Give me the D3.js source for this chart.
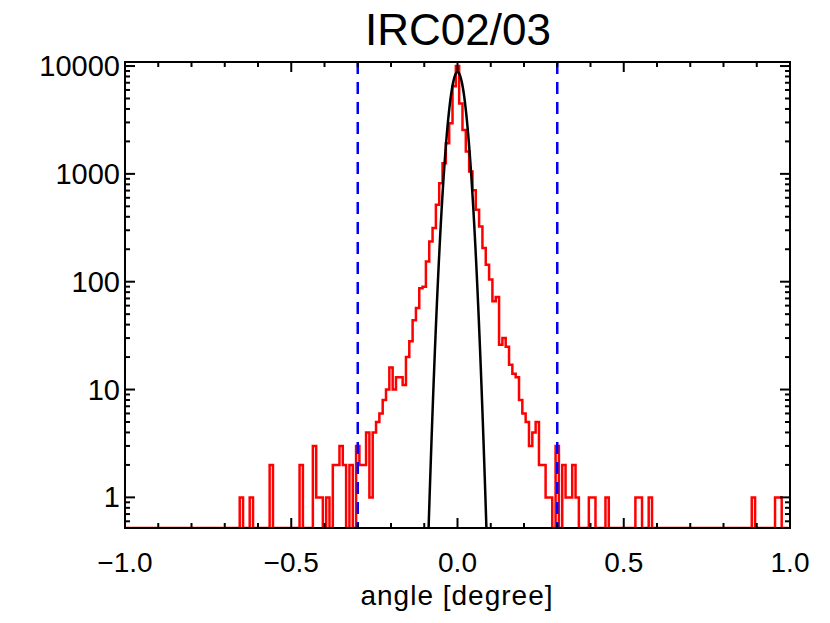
<!DOCTYPE html>
<html><head><meta charset="utf-8">
<script src="https://cdn.jsdelivr.net/npm/d3@7"></script>
<style>body{margin:0;background:#fff}text{font-family:"Liberation Sans",Arial,sans-serif}</style>
</head><body><svg id="c" width="830" height="623"></svg>
<script>
// histogram bin centres (step 0.01) with non-zero counts; all other bins are 0
const binCenters = [-0.65,-0.62,-0.56,-0.47,-0.43,-0.42,-0.41,-0.39,-0.37,-0.36,-0.35,-0.34,-0.32,-0.30,-0.29,-0.28,-0.27,-0.26,-0.25,-0.24,-0.23,-0.22,-0.21,-0.20,-0.19,-0.18,-0.17,-0.16,-0.15,-0.14,-0.13,-0.12,-0.11,-0.10,-0.09,-0.08,-0.07,-0.06,-0.05,-0.04,-0.03,-0.02,-0.01,0.00,0.01,0.02,0.03,0.04,0.05,0.06,0.07,0.08,0.09,0.10,0.11,0.12,0.13,0.14,0.15,0.16,0.17,0.18,0.19,0.20,0.21,0.22,0.23,0.24,0.25,0.26,0.27,0.28,0.30,0.32,0.33,0.34,0.35,0.36,0.40,0.41,0.45,0.54,0.55,0.58,0.89,0.96,0.97];
const binCounts  = [1,1,2,2,3,1,1,1,2,2,3,2,2,3,2,2,4,1,4,5,6,8,10,16,10,13,13,11,20,28,44,57,87,90,154,236,314,516,820,1255,1920,2950,6500,10000,4500,2550,1610,1050,705,465,325,205,144,105,66,72,26,30,25,17,14,13,8,6,5,3,4,5,2,2,1,1,3,2,1,1,2,1,1,1,1,1,1,1,1,1,1];
const fitPeak = 8800, fitSigma = 0.0197; // gaussian fit (black)
const cutLines = [-0.3, 0.3];
const xTicks = [-1,-0.5,0,0.5,1];
const yTicks = [1,10,100,1000,10000];

const svg = d3.select("#c");
const L=125,R=790,T=62,B=528;
const x = d3.scaleLinear().domain([-1,1]).range([L,R]);
const y = d3.scaleLog().domain([0.52,10900]).range([B,T]);
const ymin = 0.52;
const g = svg.append("g");
svg.append("defs").append("clipPath").attr("id","cp").append("rect").attr("x",L).attr("y",T).attr("width",R-L).attr("height",B-T);

const counts = new Map(binCenters.map((c,i)=>[Math.round(c*100),binCounts[i]]));
const pts=[];
for(let k=-100;k<100;k++){
  const v = counts.get(k)||0;
  pts.push([k/100-0.005, Math.max(v,ymin)]);
}
pts.push([0.995, ymin]);
g.append("path").attr("clip-path","url(#cp)")
 .attr("d", d3.line().x(d=>x(d[0])).y(d=>y(d[1])).curve(d3.curveStepAfter)(pts))
 .attr("fill","none").attr("stroke","#f00").attr("stroke-width",2.5);

const gx = d3.range(-0.1,0.1001,0.002);
g.append("path").attr("clip-path","url(#cp)")
 .attr("d", d3.line().x(d=>x(d)).y(d=>y(Math.max(fitPeak*Math.exp(-d*d/(2*fitSigma*fitSigma)),0.3)))(gx))
 .attr("fill","none").attr("stroke","#000").attr("stroke-width",2.5);

cutLines.forEach(c=>g.append("line").attr("x1",x(c)).attr("x2",x(c)).attr("y1",T).attr("y2",B)
 .attr("stroke","#00f").attr("stroke-width",2.5).attr("stroke-dasharray","12,8"));

g.append("rect").attr("x",L).attr("y",T).attr("width",R-L).attr("height",B-T).attr("fill","none").attr("stroke","#000").attr("stroke-width",2);

const xMinor = d3.range(-10,11).map(i=>i/10);
xMinor.forEach(v=>{
  const major = Math.abs(v*2-Math.round(v*2))<1e-9;
  const len = major?10:5;
  g.append("line").attr("x1",x(v)).attr("x2",x(v)).attr("y1",B).attr("y2",B-len).attr("stroke","#000").attr("stroke-width",2);
  g.append("line").attr("x1",x(v)).attr("x2",x(v)).attr("y1",T).attr("y2",T+len).attr("stroke","#000").attr("stroke-width",2);
});
xTicks.forEach(v=>g.append("text").attr("x",x(v)).attr("y",572).attr("text-anchor","middle").attr("font-size",28)
 .text(d3.format(".1f")(v).replace("-","\u2013")));
const yMinor=[];
[1,10,100,1000].forEach(d=>{for(let m=1;m<10;m++)yMinor.push(d*m);});
yMinor.push(10000);
yMinor.concat([0.6,0.7,0.8,0.9]).filter(v=>v>=ymin&&v<=10900).forEach(v=>{
  const major = yTicks.includes(v);
  const len = major?10:5;
  g.append("line").attr("x1",L).attr("x2",L+len).attr("y1",y(v)).attr("y2",y(v)).attr("stroke","#000").attr("stroke-width",2);
  g.append("line").attr("x1",R).attr("x2",R-len).attr("y1",y(v)).attr("y2",y(v)).attr("stroke","#000").attr("stroke-width",2);
});
yTicks.forEach(v=>g.append("text").attr("x",L-5).attr("y",y(v)+10).attr("text-anchor","end").attr("font-size",29).text(v));

svg.append("text").attr("x",458).attr("y",45).attr("text-anchor","middle").attr("font-size",44).text("IRC02/03");
svg.append("text").attr("x",457).attr("y",605).attr("text-anchor","middle").attr("font-size",28).attr("letter-spacing",1).text("angle [degree]");
</script></body></html>
